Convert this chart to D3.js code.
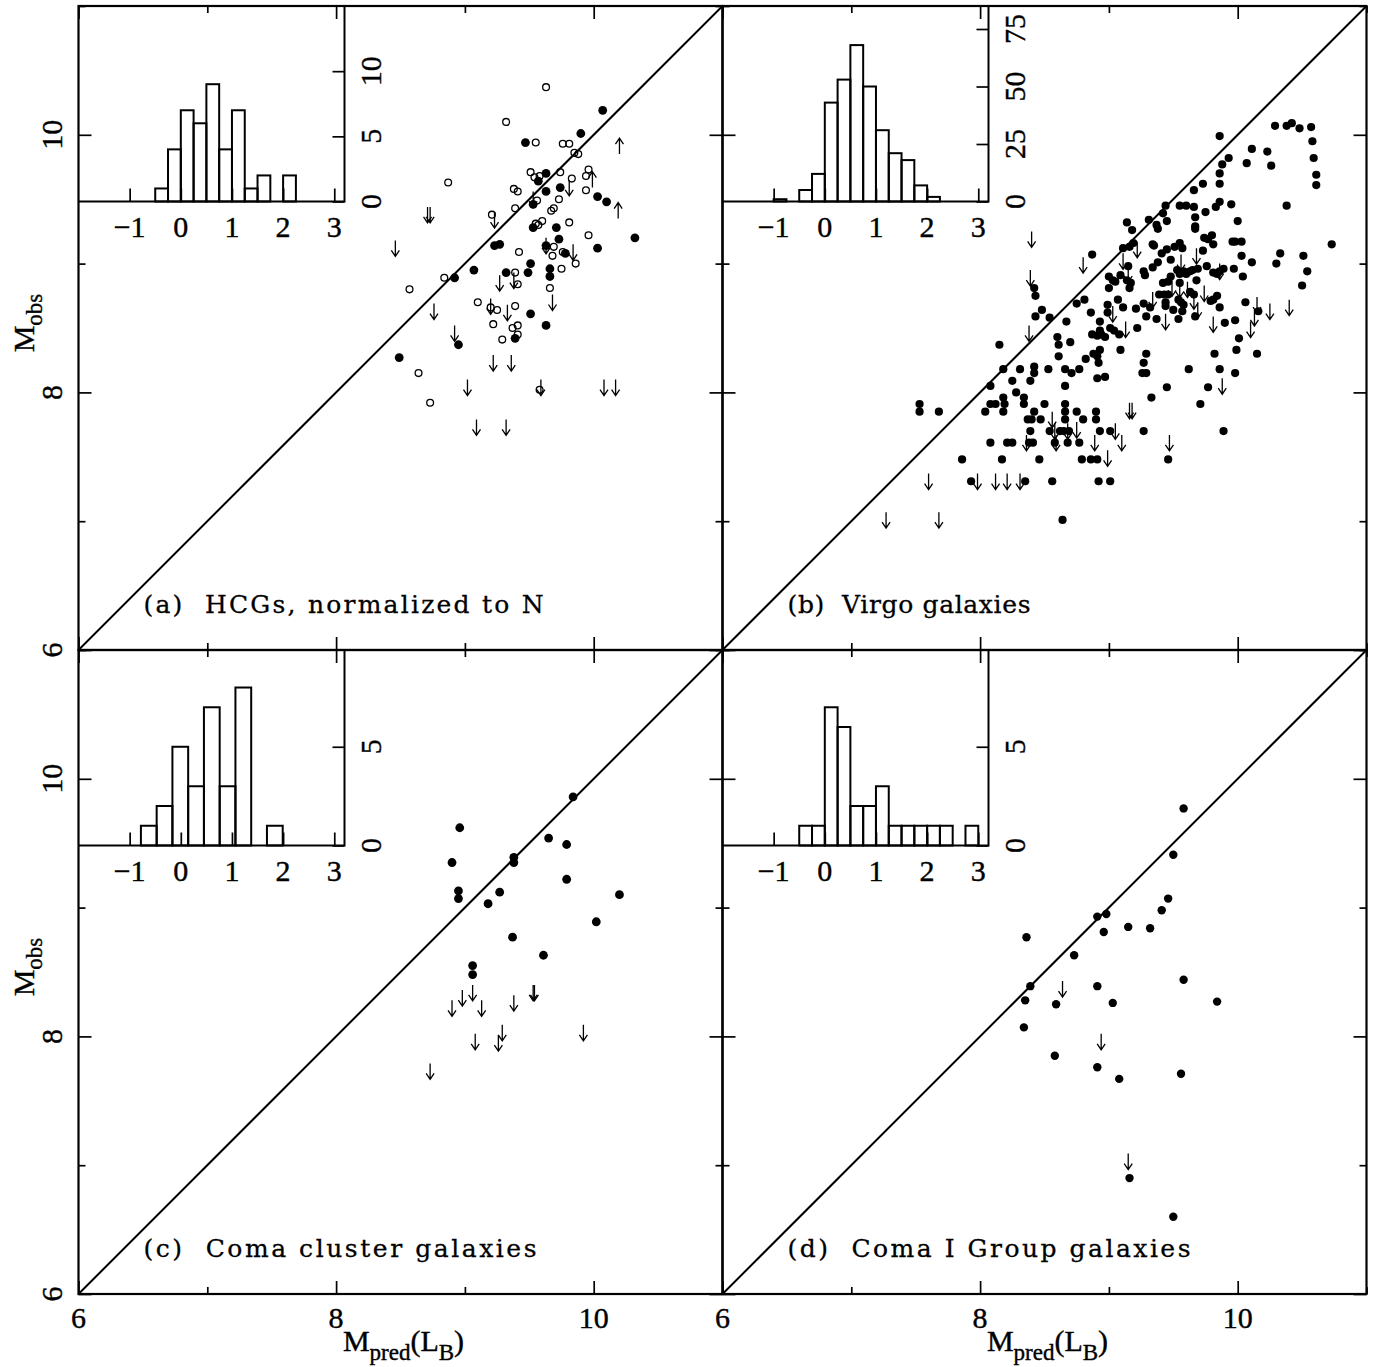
<!DOCTYPE html>
<html>
<head>
<meta charset="utf-8">
<script src="https://cdn.jsdelivr.net/npm/d3@7"></script>
<style>
  body { margin: 0; background: #fff; }
  svg { display: block; }
</style>
</head>
<body>
<div id="chart"></div>
<script>
// ---- data: [M_pred, M_obs] ----
// (a) HCGs
var hcgFilled = [[10.07,10.19],[9.90,10.01],[9.47,9.94],[9.63,9.70],[9.57,9.64],[9.74,9.59],[9.63,9.56],[10.03,9.52],[10.10,9.48],[9.53,9.46],[9.53,9.28],[9.71,9.28],[9.73,9.19],[10.32,9.20],[9.63,9.14],[10.03,9.12],[9.23,9.14],[9.27,9.15],[9.78,9.08],[9.07,8.95],[9.51,9.00],[9.66,8.96],[8.92,8.89],[9.32,8.93],[9.49,8.93],[9.66,8.90],[9.51,8.61],[9.63,8.52],[9.39,8.42],[8.95,8.37],[8.49,8.27]];
var hcgOpen = [[9.63,10.37],[9.32,10.10],[9.55,9.94],[9.76,9.93],[9.81,9.93],[9.85,9.86],[9.88,9.85],[9.96,9.73],[9.94,9.68],[9.83,9.66],[9.51,9.71],[9.54,9.67],[9.58,9.68],[9.74,9.71],[8.87,9.63],[9.38,9.58],[9.41,9.56],[9.94,9.57],[9.73,9.50],[9.56,9.49],[9.39,9.43],[9.67,9.41],[9.69,9.43],[9.21,9.38],[9.60,9.33],[9.55,9.31],[9.57,9.30],[9.81,9.32],[9.96,9.22],[9.42,9.09],[9.69,9.13],[9.68,9.06],[9.76,9.09],[9.86,9.00],[9.75,8.96],[8.84,8.89],[9.39,8.93],[9.41,8.84],[8.57,8.80],[9.66,8.81],[9.10,8.70],[9.25,8.64],[9.20,8.66],[9.39,8.67],[9.22,8.53],[9.41,8.52],[9.37,8.50],[9.41,8.45],[9.29,8.41],[8.64,8.15],[8.73,7.92],[9.58,8.02]];
var hcgUpper = [[8.71,9.44],[8.73,9.44],[8.46,9.18],[9.23,9.40],[9.81,9.65],[9.53,9.56],[9.63,9.20],[9.84,9.15],[9.27,8.91],[9.38,8.93],[9.68,8.76],[8.76,8.69],[9.20,8.73],[9.33,8.68],[8.92,8.52],[9.22,8.29],[9.36,8.29],[9.02,8.10],[9.59,8.10],[10.08,8.10],[10.17,8.10],[9.09,7.79],[9.32,7.79]];
var hcgLower = [[10.20,9.85],[9.99,9.59],[10.19,9.35]];

// (b) Virgo
var virgoFilled = [[8.87,9.07],[9.00,8.90],[9.00,8.81],[8.42,8.81],[8.43,8.75],[8.75,8.69],[8.81,8.72],[8.99,8.68],[8.48,8.64],[8.43,8.59],[8.54,8.58],[8.86,8.62],[8.99,8.62],[8.67,8.55],[8.93,8.55],[8.87,8.45],[8.91,8.44],[8.94,8.45],[8.97,8.43],[8.93,8.48],[8.60,8.43],[8.70,8.39],[8.61,8.37],[8.15,8.37],[8.93,8.33],[8.61,8.28],[8.88,8.30],[8.91,8.28],[8.82,8.26],[8.92,8.23],[8.18,8.18],[8.31,8.18],[8.42,8.20],[8.42,8.15],[8.53,8.18],[8.66,8.18],[8.71,8.15],[8.77,8.18],[8.91,8.11],[8.97,8.12],[8.25,8.09],[8.39,8.09],[8.08,8.05],[8.66,8.05],[8.28,8.00],[8.18,7.96],[8.19,7.91],[8.34,7.96],[8.34,7.91],[8.08,7.91],[8.12,7.91],[8.50,7.91],[8.66,7.91],[7.53,7.91],[7.53,7.85],[7.68,7.85],[8.04,7.85],[8.18,7.85],[8.42,7.85],[8.66,7.85],[8.75,7.85],[8.90,7.85],[8.37,7.79],[8.40,7.79],[8.47,7.79],[8.66,7.79],[8.80,7.79],[8.90,7.79],[8.39,7.70],[8.54,7.70],[8.62,7.70],[8.65,7.70],[8.69,7.70],[8.93,7.70],[9.01,7.70],[8.08,7.61],[8.21,7.61],[8.25,7.61],[8.38,7.61],[8.41,7.61],[8.58,7.61],[8.68,7.61],[8.77,7.61],[7.86,7.48],[8.17,7.48],[8.46,7.48],[8.79,7.48],[8.86,7.48],[8.91,7.48],[7.93,7.31],[8.35,7.31],[8.56,7.31],[8.92,7.31],[9.01,7.31],[8.64,7.01],
  [10.29,10.07],[10.38,10.07],[10.42,10.09],[10.48,10.05],[10.57,10.06],[9.86,9.99],[10.58,9.95],[10.11,9.89],[10.23,9.87],[9.93,9.82],[10.59,9.82],[10.07,9.78],[9.88,9.77],[10.26,9.76],[9.86,9.70],[10.61,9.69],[9.86,9.62],[10.61,9.61],[9.73,9.62],[9.66,9.57],[9.86,9.48],[9.83,9.44],[9.95,9.46],[10.38,9.45],[9.44,9.45],[9.55,9.45],[9.60,9.45],[9.66,9.44],[9.75,9.40],[9.42,9.39],[9.67,9.36],[9.31,9.34],[9.45,9.33],[9.14,9.32],[10.00,9.33],[9.37,9.30],[9.38,9.27],[9.67,9.29],[9.67,9.27],[9.18,9.26],[9.74,9.20],[9.77,9.19],[9.80,9.22],[9.81,9.15],[9.96,9.17],[9.98,9.17],[10.03,9.17],[9.34,9.15],[9.35,9.14],[9.11,9.12],[9.16,9.13],[9.19,9.16],[9.51,9.13],[9.55,9.16],[9.57,9.12],[9.73,9.10],[9.41,9.08],[9.45,9.11],[10.73,9.15],[10.33,9.08],[10.51,9.06],[10.03,9.06],[9.48,9.03],[10.11,9.01],[10.30,9.00],[9.38,9.01],[9.76,8.98],[9.15,8.98],[9.34,8.97],[9.69,8.96],[9.97,8.96],[10.54,8.94],[9.89,8.96],[9.86,8.94],[9.81,8.93],[9.84,8.92],[9.27,8.94],[9.28,8.91],[9.53,8.95],[9.55,8.92],[9.58,8.94],[9.60,8.92],[9.63,8.94],[9.65,8.95],[9.48,8.90],[10.04,8.90],[9.03,8.87],[9.05,8.86],[9.09,8.91],[9.14,8.87],[9.17,8.85],[9.16,8.81],[9.68,8.87],[9.55,8.85],[9.42,8.85],[9.46,8.86],[10.50,8.83],[9.39,8.76],[9.43,8.76],[9.44,8.70],[9.46,8.76],[9.54,8.72],[9.56,8.70],[9.58,8.68],[9.63,8.78],[9.66,8.76],[9.79,8.71],[9.81,8.72],[9.84,8.75],[9.07,8.72],[9.11,8.66],[9.21,8.65],[9.27,8.69],[9.29,8.59],[9.32,8.66],[9.37,8.57],[9.44,8.67],[9.50,8.64],[9.57,8.63],[9.54,8.57],[9.67,8.59],[9.86,8.66],[10.06,8.70],[10.16,8.63],[9.90,8.54],[9.98,8.56],[9.22,8.50],[9.01,8.50],[9.04,8.48],[9.08,8.45],[10.01,8.42],[9.09,8.33],[9.29,8.30],[9.27,8.23],[9.82,8.30],[9.99,8.33],[10.15,8.30],[9.26,8.15],[9.29,8.15],[9.62,8.18],[9.86,8.18],[9.98,8.15],[9.45,8.04],[9.77,8.04],[9.33,7.96],[9.71,7.91],[9.27,7.70],[9.89,7.70],[9.46,7.48]];
var virgoUpper = [[8.40,9.25],[8.80,9.05],[8.39,8.95],[8.38,8.52],[8.56,7.85],[8.58,7.76],[8.68,7.76],[8.75,7.77],[8.36,7.67],[8.59,7.67],[8.89,7.67],[8.99,7.55],[7.60,7.37],[7.98,7.37],[8.12,7.37],[8.21,7.37],[8.31,7.37],[7.27,7.07],[7.68,7.07],
  [9.22,9.17],[9.11,9.08],[9.15,8.98],[9.56,9.07],[9.68,9.12],[9.86,9.00],[9.49,8.87],[9.55,8.86],[9.61,8.86],[9.34,8.78],[9.66,8.77],[9.74,8.83],[9.69,8.70],[9.03,8.67],[9.44,8.61],[9.81,8.59],[9.13,8.55],[10.15,8.74],[10.25,8.69],[10.40,8.72],[10.13,8.64],[10.10,8.55],[9.88,8.11],[9.16,7.92],[9.18,7.92],[9.05,7.76],[9.10,7.67],[9.47,7.67]];

// (c) Coma cluster
var comaFilled = [[9.84,9.86],[8.96,9.62],[9.65,9.54],[9.79,9.49],[8.90,9.35],[9.38,9.39],[9.38,9.35],[9.79,9.22],[8.95,9.13],[8.95,9.07],[9.27,9.12],[10.20,9.10],[9.18,9.03],[10.02,8.89],[9.37,8.77],[9.61,8.63],[9.06,8.55],[9.06,8.48]];
var comaUpper = [[9.06,8.40],[8.98,8.36],[8.90,8.28],[9.13,8.28],[9.38,8.32],[9.53,8.40],[9.54,8.40],[9.29,8.09],[9.08,8.02],[9.26,8.01],[9.92,8.09],[8.73,7.79]];

// (d) Coma I group
var comaIFilled = [[9.58,9.77],[9.50,9.41],[9.46,9.07],[9.41,8.98],[8.91,8.93],[8.98,8.95],[8.96,8.81],[9.15,8.85],[9.32,8.84],[8.36,8.77],[8.73,8.63],[8.39,8.39],[8.91,8.39],[9.58,8.44],[8.35,8.28],[8.59,8.25],[9.03,8.26],[9.84,8.27],[8.34,8.07],[8.58,7.85],[8.91,7.76],[9.08,7.67],[9.56,7.71],[9.16,6.90],[9.50,6.60]];
var comaIUpper = [[8.64,8.43],[8.94,8.02],[9.15,7.09]];

// inset histograms: first bin edge, bin width, counts
var histHcgStart = -0.5,  histHcgBin = 0.25,  histHcgCounts = [1,4,7,6,9,4,7,1,2,0,2];
var histVirgoStart = -1.0, histVirgoBin = 0.25, histVirgoCounts = [1,0,5,12,43,53,68,50,31,21,18,7,2];
var histComaStart = -0.78, histComaBin = 0.308, histComaCounts = [1,2,5,3,7,3,8,0,1];
var histComaIStart = -0.5, histComaIBin = 0.25, histComaICounts = [1,1,7,6,2,2,3,1,1,1,1,1,0,1];
var histMax = [15, 85, 9.9, 9.9];
var histYTicks = [[0,5,10],[0,25,50,75],[0,5],[0,5]];

// ticks and labels
var mainDomain = [6, 11];
var insetDomain = [-2, 3.2];
var majorTicks = [6, 8, 10];
var minorTicks = [7, 9, 11];
var mainTickLabels = [6, 8, 10];
var insetXTicks = [-1, 0, 1, 2, 3];
var panelLabels = ["(a)  HCGs, normalized to N", "(b)  Virgo galaxies", "(c)  Coma cluster galaxies", "(d)  Coma I Group galaxies"];

// ---- layout ----
var svgWidth = 1375;
var svgHeight = 1367;
var panelSize = 644;
var insetW = 266;
var insetH = 195.5;
var labelLengths = [400, 243, 393, 403];
var numFont = "'Liberation Serif', serif";
var textFont = "'DejaVu Serif', serif";
var numSize = 30;

var svg = d3.select("#chart")
    .append("svg")
    .attr("width", svgWidth)
    .attr("height", svgHeight);

svg.append("rect")
    .attr("width", svgWidth)
    .attr("height", svgHeight)
    .attr("fill", "#fff");

var panels = [
    {left: 78.5, top: 6, filled: hcgFilled, open: hcgOpen, upper: hcgUpper, lower: hcgLower,
     hStart: histHcgStart, hBin: histHcgBin, hCounts: histHcgCounts, r: 4.4},
    {left: 722.5, top: 6, filled: virgoFilled, open: [], upper: virgoUpper, lower: [],
     hStart: histVirgoStart, hBin: histVirgoBin, hCounts: histVirgoCounts, r: 4.1},
    {left: 78.5, top: 650, filled: comaFilled, open: [], upper: comaUpper, lower: [],
     hStart: histComaStart, hBin: histComaBin, hCounts: histComaCounts, r: 4.4},
    {left: 722.5, top: 650, filled: comaIFilled, open: [], upper: comaIUpper, lower: [],
     hStart: histComaIStart, hBin: histComaIBin, hCounts: histComaICounts, r: 4.2}
];

function drawTicks(g, axis, tx, ty, size) {
    g.append("g")
        .attr("transform", `translate(${tx}, ${ty})`)
        .call(axis.tickSize(-size).tickFormat(""))
        .call(s => s.select(".domain").remove())
        .selectAll("line")
        .attr("stroke", "#000")
        .attr("stroke-width", 1.7);
}

function numText(sel) {
    sel.attr("font-family", numFont)
        .attr("font-size", numSize)
        .attr("stroke", "#000")
        .attr("stroke-width", 0.4);
}

panels.forEach(function(p, i) {
    var x = d3.scaleLinear().domain(mainDomain).range([p.left, p.left + panelSize]);
    var y = d3.scaleLinear().domain(mainDomain).range([p.top + panelSize, p.top]);
    var g = svg.append("g");

    // inset histogram
    var hx = d3.scaleLinear().domain(insetDomain).range([p.left, p.left + insetW]);
    var hy = d3.scaleLinear().domain([0, histMax[i]]).range([p.top + insetH, p.top]);
    var bins = p.hCounts.map((c, k) => ({x0: p.hStart + k * p.hBin, x1: p.hStart + (k + 1) * p.hBin, c: c}))
        .filter(b => b.c > 0);

    g.selectAll(null)
        .data(bins)
        .enter()
        .append("rect")
        .attr("x", d => hx(d.x0))
        .attr("width", d => hx(d.x1) - hx(d.x0))
        .attr("y", d => hy(d.c))
        .attr("height", d => hy(0) - hy(d.c))
        .attr("fill", "none")
        .attr("stroke", "#000")
        .attr("stroke-width", 2);

    drawTicks(g, d3.axisBottom(hx).tickValues(insetXTicks), 0, hy(0), 13);
    drawTicks(g, d3.axisRight(hy).tickValues(histYTicks[i]), hx(insetDomain[1]), 0, 12);

    g.append("path")
        .attr("d", `M${hx(insetDomain[0])},${hy(0)}H${hx(insetDomain[1])}V${hy(histMax[i])}`)
        .attr("fill", "none")
        .attr("stroke", "#000")
        .attr("stroke-width", 2);

    g.selectAll(null)
        .data(insetXTicks)
        .enter()
        .append("text")
        .attr("x", d => hx(d))
        .attr("y", hy(0) + 35)
        .attr("text-anchor", "middle")
        .call(numText)
        .text(d => d < 0 ? "\u2212" + Math.abs(d) : d);

    g.selectAll(null)
        .data(histYTicks[i])
        .enter()
        .append("text")
        .attr("transform", d => `translate(${hx(insetDomain[1]) + 36}, ${hy(d)}) rotate(-90)`)
        .attr("text-anchor", "middle")
        .call(numText)
        .text(d => d);

    // diagonal M_obs = M_pred
    g.append("line")
        .attr("x1", x(6)).attr("y1", y(6))
        .attr("x2", x(11)).attr("y2", y(11))
        .attr("stroke", "#000")
        .attr("stroke-width", 2);

    // points
    g.selectAll(null)
        .data(p.filled)
        .enter()
        .append("circle")
        .attr("cx", d => x(d[0]))
        .attr("cy", d => y(d[1]))
        .attr("r", p.r)
        .attr("fill", "#000");

    g.selectAll(null)
        .data(p.open)
        .enter()
        .append("circle")
        .attr("cx", d => x(d[0]))
        .attr("cy", d => y(d[1]))
        .attr("r", 3.4)
        .attr("fill", "none")
        .attr("stroke", "#000")
        .attr("stroke-width", 1.3);

    g.selectAll(null)
        .data(p.upper)
        .enter()
        .append("path")
        .attr("d", function(d) {
            var px = x(d[0]), py = y(d[1]);
            return `M${px},${py}V${py + 16}M${px - 4},${py + 10}L${px},${py + 16}L${px + 4},${py + 10}`;
        })
        .attr("fill", "none")
        .attr("stroke", "#000")
        .attr("stroke-width", 1.3);

    g.selectAll(null)
        .data(p.lower)
        .enter()
        .append("path")
        .attr("d", function(d) {
            var px = x(d[0]), py = y(d[1]);
            return `M${px},${py}V${py - 16}M${px - 4},${py - 10}L${px},${py - 16}L${px + 4},${py - 10}`;
        })
        .attr("fill", "none")
        .attr("stroke", "#000")
        .attr("stroke-width", 1.3);

    // frame and inward ticks
    g.append("rect")
        .attr("x", p.left).attr("y", p.top)
        .attr("width", panelSize).attr("height", panelSize)
        .attr("fill", "none")
        .attr("stroke", "#000")
        .attr("stroke-width", 2.2);

    [[majorTicks, 13], [minorTicks, 7]].forEach(function(t) {
        drawTicks(g, d3.axisBottom(x).tickValues(t[0]), 0, p.top + panelSize, t[1]);
        drawTicks(g, d3.axisTop(x).tickValues(t[0]), 0, p.top, t[1]);
        drawTicks(g, d3.axisLeft(y).tickValues(t[0]), p.left, 0, t[1]);
        drawTicks(g, d3.axisRight(y).tickValues(t[0]), p.left + panelSize, 0, t[1]);
    });

    // panel label
    g.append("text")
        .attr("x", p.left + 65)
        .attr("y", p.top + panelSize - 37)
        .attr("font-family", textFont)
        .attr("font-size", 25)
        .attr("stroke", "#000")
        .attr("stroke-width", 0.3)
        .attr("textLength", labelLengths[i])
        .attr("lengthAdjust", "spacing")
        .style("white-space", "pre")
        .text(panelLabels[i]);

    // tick labels on outer sides
    if (i % 2 === 0) {
        g.selectAll(null)
            .data(mainTickLabels)
            .enter()
            .append("text")
            .attr("transform", d => `translate(${p.left - 17}, ${y(d)}) rotate(-90)`)
            .attr("text-anchor", "middle")
            .call(numText)
            .text(d => d);

        var yt = g.append("text")
            .attr("transform", `translate(34, ${p.top + panelSize / 2 - 5}) rotate(-90)`)
            .attr("text-anchor", "middle")
            .call(numText);
        yt.append("tspan").text("M");
        yt.append("tspan").attr("font-size", 23).attr("dy", 8).text("obs");
    }
    if (i >= 2) {
        g.selectAll(null)
            .data(mainTickLabels)
            .enter()
            .append("text")
            .attr("x", d => x(d))
            .attr("y", p.top + panelSize + 34)
            .attr("text-anchor", "middle")
            .call(numText)
            .text(d => d);

        var xt = g.append("text")
            .attr("x", p.left + panelSize / 2 + 3)
            .attr("y", p.top + panelSize + 57)
            .attr("text-anchor", "middle")
            .call(numText);
        xt.append("tspan").text("M");
        xt.append("tspan").attr("font-size", 23).attr("dy", 9).text("pred");
        xt.append("tspan").attr("dy", -9).text("(L");
        xt.append("tspan").attr("font-size", 23).attr("dy", 9).text("B");
        xt.append("tspan").attr("dy", -9).text(")");
    }
});
</script>
</body>
</html>
